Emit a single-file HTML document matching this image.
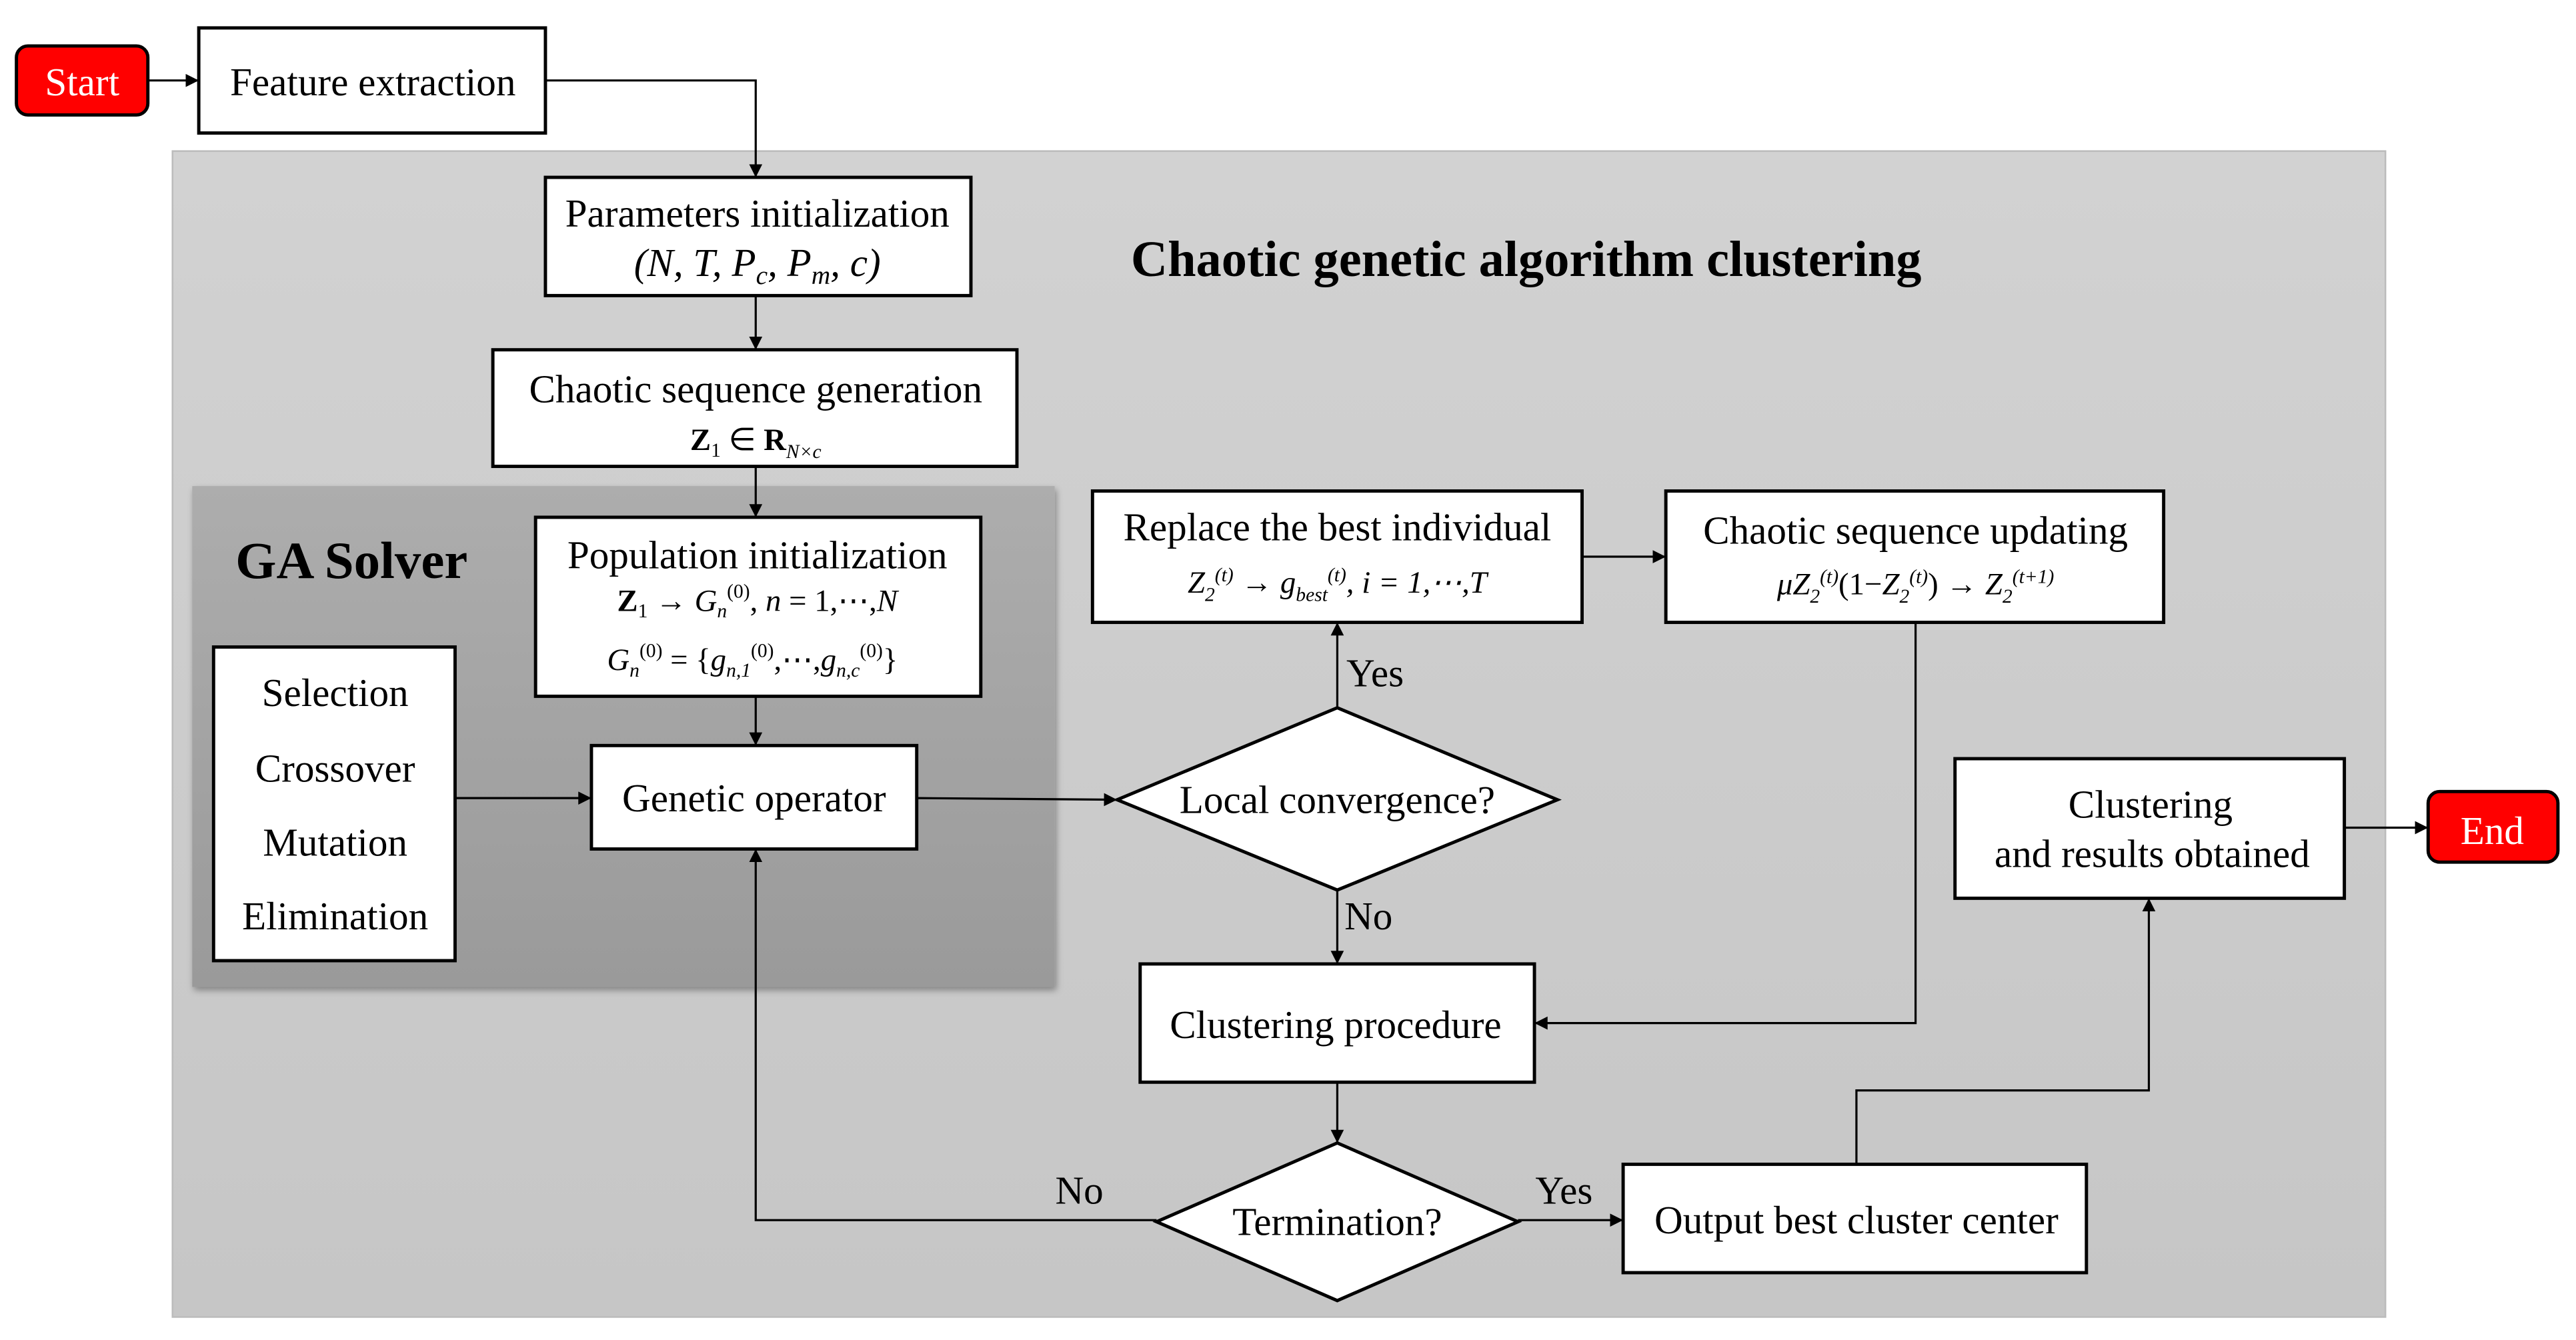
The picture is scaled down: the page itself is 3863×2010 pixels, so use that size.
<!DOCTYPE html>
<html><head><meta charset="utf-8"><style>
html,body{margin:0;padding:0;background:#fff;}
svg{display:block;}
text{font-family:"Liberation Serif",serif;fill:#000;}
</style></head><body>
<svg width="3863" height="2010" viewBox="0 0 1568 816" preserveAspectRatio="none" xmlns="http://www.w3.org/2000/svg">
<defs>
<marker id="a" viewBox="0 0 10 10" refX="10" refY="5" markerWidth="8" markerHeight="8" orient="auto" markerUnits="userSpaceOnUse"><path d="M0,0 L10,5 L0,10 z" fill="#000"/></marker>
<linearGradient id="g1" x1="0" y1="0" x2="0" y2="1"><stop offset="0" stop-color="#d2d2d2"/><stop offset="1" stop-color="#c6c6c6"/></linearGradient>
<linearGradient id="g2" x1="0" y1="0" x2="0" y2="1"><stop offset="0" stop-color="#adadad"/><stop offset="1" stop-color="#9a9a9a"/></linearGradient>
<filter id="sh" x="-5%" y="-5%" width="110%" height="110%"><feDropShadow dx="1" dy="2" stdDeviation="2" flood-color="#000" flood-opacity="0.35"/></filter>
</defs>
<rect x="105" y="92" width="1347" height="710" fill="url(#g1)" stroke="#bbb" stroke-width="1"/>
<rect x="117" y="296" width="525" height="305" fill="url(#g2)" filter="url(#sh)"/>
<g stroke="#000" stroke-width="1.3" fill="none">
<line x1="90" y1="49" x2="121" y2="49" marker-end="url(#a)"/>
<polyline points="332,49 460,49 460,108" marker-end="url(#a)"/>
<line x1="460" y1="180" x2="460" y2="213" marker-end="url(#a)"/>
<line x1="460" y1="284" x2="460" y2="315" marker-end="url(#a)"/>
<line x1="460" y1="424" x2="460" y2="454" marker-end="url(#a)"/>
<line x1="277" y1="486" x2="360" y2="486" marker-end="url(#a)"/>
<line x1="558" y1="486" x2="680" y2="487" marker-end="url(#a)"/>
<line x1="814" y1="431" x2="814" y2="379" marker-end="url(#a)"/>
<line x1="963" y1="339" x2="1014" y2="339" marker-end="url(#a)"/>
<polyline points="1166,379 1166,623 934,623" marker-end="url(#a)"/>
<line x1="814" y1="542" x2="814" y2="587" marker-end="url(#a)"/>
<line x1="814" y1="659" x2="814" y2="696" marker-end="url(#a)"/>
<line x1="924" y1="743" x2="988" y2="743" marker-end="url(#a)"/>
<polyline points="704,743 460,743 460,517" marker-end="url(#a)"/>
<polyline points="1130,709 1130,664 1308,664 1308,547" marker-end="url(#a)"/>
<line x1="1427" y1="504" x2="1478" y2="504" marker-end="url(#a)"/>
</g>
<g stroke="#000" stroke-width="2" fill="#fff">
<rect x="10" y="28" width="80" height="42" rx="7" fill="#f00"/>
<rect x="1478" y="482" width="79" height="43" rx="7" fill="#f00"/>
<rect x="121" y="17" width="211" height="64"/>
<rect x="332" y="108" width="259" height="72"/>
<rect x="300" y="213" width="319" height="71"/>
<rect x="326" y="315" width="271" height="109"/>
<rect x="130" y="394" width="147" height="191"/>
<rect x="360" y="454" width="198" height="63"/>
<rect x="665" y="299" width="298" height="80"/>
<rect x="1014" y="299" width="303" height="80"/>
<rect x="1190" y="462" width="237" height="85"/>
<rect x="694" y="587" width="240" height="72"/>
<rect x="988" y="709" width="282" height="66"/>
<polygon points="680,487 814,431 948,487 814,542"/>
<polygon points="704,744 814,696 924,744 814,792"/>
</g>
<g font-size="24" text-anchor="middle">
<text x="50" y="58" style="fill:#fff">Start</text>
<text x="1517" y="514" style="fill:#fff">End</text>
<text x="227" y="58">Feature extraction</text>
<text x="461" y="138">Parameters initialization</text>
<text x="461" y="168" font-style="italic">(N, T, P<tspan font-size="16" dy="5">c</tspan><tspan dy="-5">, P</tspan><tspan font-size="16" dy="5">m</tspan><tspan dy="-5">, c)</tspan></text>
<text x="460" y="245">Chaotic sequence generation</text>
<text x="460" y="274" font-size="19"><tspan font-weight="bold">Z</tspan><tspan font-size="12" dy="4">1</tspan><tspan dy="-4"> ∈ </tspan><tspan font-weight="bold">R</tspan><tspan font-size="12" dy="5" font-style="italic">N×c</tspan></text>
<text x="461" y="346">Population initialization</text>
<text x="461" y="372" font-size="19"><tspan font-weight="bold">Z</tspan><tspan font-size="12" dy="4">1</tspan><tspan dy="-4"> → </tspan><tspan font-style="italic">G</tspan><tspan font-size="12" dy="4" font-style="italic">n</tspan><tspan font-size="12" dy="-12">(0)</tspan><tspan dy="8">, </tspan><tspan font-style="italic">n</tspan> = 1,⋯,<tspan font-style="italic">N</tspan></text>
<text x="458" y="408" font-size="19"><tspan font-style="italic">G</tspan><tspan font-size="12" dy="4" font-style="italic">n</tspan><tspan font-size="12" dy="-12">(0)</tspan><tspan dy="8"> = {</tspan><tspan font-style="italic">g</tspan><tspan font-size="12" dy="4" font-style="italic">n,1</tspan><tspan font-size="12" dy="-12">(0)</tspan><tspan dy="8">,⋯,</tspan><tspan font-style="italic">g</tspan><tspan font-size="12" dy="4" font-style="italic">n,c</tspan><tspan font-size="12" dy="-12">(0)</tspan><tspan dy="8">}</tspan></text>
<text x="204" y="430">Selection</text>
<text x="204" y="476">Crossover</text>
<text x="204" y="521">Mutation</text>
<text x="204" y="566">Elimination</text>
<text x="459" y="494">Genetic operator</text>
<text x="814" y="329">Replace the best individual</text>
<text x="814" y="361" font-size="19" font-style="italic">Z<tspan font-size="12" dy="5">2</tspan><tspan font-size="12" dy="-12">(t)</tspan><tspan dy="7" font-style="normal"> → </tspan>g<tspan font-size="12" dy="5">best</tspan><tspan font-size="12" dy="-12">(t)</tspan><tspan dy="7">, i = 1,⋯,T</tspan></text>
<text x="1166" y="331">Chaotic sequence updating</text>
<text x="1166" y="362" font-size="19" font-style="italic">μZ<tspan font-size="12" dy="5">2</tspan><tspan font-size="12" dy="-12">(t)</tspan><tspan dy="7" font-style="normal">(1−</tspan>Z<tspan font-size="12" dy="5">2</tspan><tspan font-size="12" dy="-12">(t)</tspan><tspan dy="7" font-style="normal">) → </tspan>Z<tspan font-size="12" dy="5">2</tspan><tspan font-size="12" dy="-12">(t+1)</tspan></text>
<text x="814" y="495">Local convergence?</text>
<text x="1309" y="498">Clustering</text>
<text x="1310" y="528">and results obtained</text>
<text x="813" y="632">Clustering procedure</text>
<text x="814" y="752">Termination?</text>
<text x="1130" y="751">Output best cluster center</text>
<text x="837" y="418">Yes</text>
<text x="833" y="566">No</text>
<text x="952" y="733">Yes</text>
<text x="657" y="733">No</text>
<text x="929" y="168" font-size="31" font-weight="bold">Chaotic genetic algorithm clustering</text>
<text x="214" y="352" font-size="32" font-weight="bold">GA Solver</text>
</g>
</svg>
</body></html>
